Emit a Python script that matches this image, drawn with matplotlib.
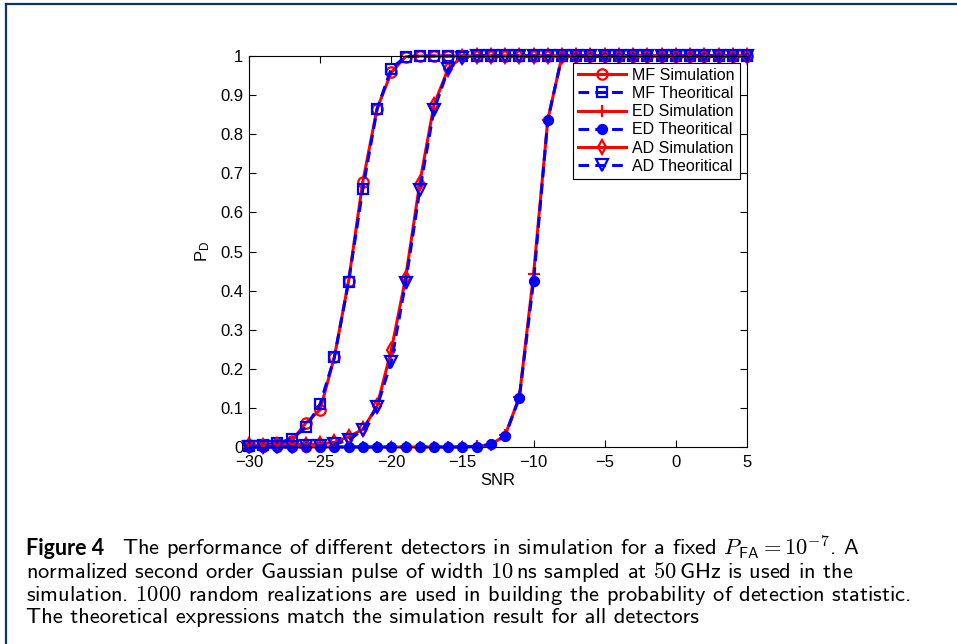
import matplotlib
matplotlib.use("Agg")
import matplotlib.pyplot as plt
from matplotlib.lines import Line2D

plt.rcParams["mathtext.fontset"] = "cm"

# SNR grid (dB) and detection probabilities
snr = list(range(-30, 6))

mf_sim = [0.004, 0.004, 0.008, 0.015, 0.062, 0.095, 0.230, 0.425, 0.679, 0.865,
          0.958, 0.998] + [1.0] * 24
mf_theo = [0.003, 0.005, 0.009, 0.021, 0.050, 0.110, 0.229, 0.423, 0.660, 0.864,
           0.968, 0.998] + [1.0] * 24

ed_sim = [0.0] * 16 + [0.002, 0.006, 0.030, 0.128, 0.442, 0.837] + [1.0] * 14
ed_theo = [0.0] * 16 + [0.001, 0.007, 0.028, 0.126, 0.425, 0.836] + [1.0] * 14

ad_sim = [0.004, 0.003, 0.005, 0.006, 0.006, 0.008, 0.012, 0.026, 0.045, 0.105,
          0.248, 0.431, 0.675, 0.875, 0.968, 0.998] + [1.0] * 20
ad_theo = [0.000, 0.000, 0.001, 0.001, 0.002, 0.003, 0.007, 0.018, 0.043, 0.103,
           0.218, 0.419, 0.657, 0.862, 0.966, 0.995] + [1.0] * 20

labels = ["MF Simulation", "MF Theoritical", "ED Simulation",
          "ED Theoritical", "AD Simulation", "AD Theoritical"]

caption = [
    "The performance of different detectors in simulation for a fixed "
    r"$P_{\mathsf{FA}} = 10^{-7}$. A",
    r"normalized second order Gaussian pulse of width $10\,$ns sampled at "
    r"$50\,$GHz is used in the",
    r"simulation. $1000$ random realizations are used in building the "
    "probability of detection statistic.",
    "The theoretical expressions match the simulation result for all detectors",
]

W, H = 957, 644
fig = plt.figure(figsize=(W / 100, H / 100), dpi=100)

# page frame (top and left edges only)
navy = "#0b3566"
fig.add_artist(Line2D([6 / W, 6 / W], [0, 1 - 4 / H], color=navy, lw=1.6,
                      transform=fig.transFigure))
fig.add_artist(Line2D([6 / W, 1], [1 - 4 / H, 1 - 4 / H], color=navy, lw=1.6,
                      transform=fig.transFigure))

ax = fig.add_axes([249 / W, 1 - 447 / H, 498 / W, 391 / H])

red = "#ff0000"
blue = "#0000ff"
lw = 2.2
dash = (0, (3.5, 2.0))
common = dict(clip_on=False, linewidth=lw, markeredgewidth=1.6)

ax.plot(snr, mf_sim, color=red, marker="o", markersize=7.5, mfc="none",
        mec=red, label=labels[0], **common)
ax.plot(snr, mf_theo, color=blue, linestyle=dash, marker="s", markersize=6.5,
        mfc="none", mec=blue, label=labels[1], **common)
ax.plot(snr, ed_sim, color=red, marker="+", markersize=8, mec=red,
        label=labels[2], **common)
ax.plot(snr, ed_theo, color=blue, linestyle=dash, marker="o", markersize=6.5,
        mfc=blue, mec=blue, label=labels[3], **common)
ax.plot(snr, ad_sim, color=red, marker="d", markersize=7.5, mfc="none",
        mec=red, label=labels[4], **common)
ax.plot(snr, ad_theo, color=blue, linestyle=dash, marker="v", markersize=8.5,
        mfc="none", mec=blue, label=labels[5], **common)

tick_font = dict(family="Liberation Sans", size=12)
ax.set_xlim(-30, 5)
ax.set_ylim(0, 1)
ax.set_xticks([-30, -25, -20, -15, -10, -5, 0, 5])
ax.set_yticks([i / 10 for i in range(11)])
ax.set_yticklabels(["0", "0.1", "0.2", "0.3", "0.4", "0.5", "0.6", "0.7",
                    "0.8", "0.9", "1"])
for lab in ax.get_xticklabels() + ax.get_yticklabels():
    lab.set_fontfamily("Liberation Sans")
    lab.set_fontsize(12)
ax.tick_params(axis="x", pad=6)
ax.tick_params(axis="y", pad=4)
ax.tick_params(direction="in", length=5, width=0.8, top=True, right=True,
               colors="black")
for sp in ax.spines.values():
    sp.set_linewidth(0.8)

ax.set_xlabel("SNR", fontdict=tick_font, labelpad=2)
ax.set_ylabel(r"$\mathregular{P_D}$", fontdict=tick_font, labelpad=6)

leg = ax.legend(loc="upper right", bbox_to_anchor=(0.985, 0.982),
                prop=dict(family="Liberation Sans", size=11.5),
                frameon=True, fancybox=False, edgecolor="black",
                framealpha=1, borderaxespad=0, handlelength=3.0,
                handletextpad=0.4, labelspacing=0.2, borderpad=0.3)
leg.get_frame().set_linewidth(0.8)

# caption
fig.text(26 / W, 1 - 555 / H, "Figure 4", family="Lato", weight="bold",
         size=15.5, va="baseline", ha="left")
baselines = [555, 578, 601, 623]
starts = [122, 26, 26, 26]
for line, y, x in zip(caption, baselines, starts):
    fig.text(x / W, 1 - y / H, line, family="cmss10", size=16.2,
             va="baseline", ha="left")

fig.savefig("out.png", dpi=100)
